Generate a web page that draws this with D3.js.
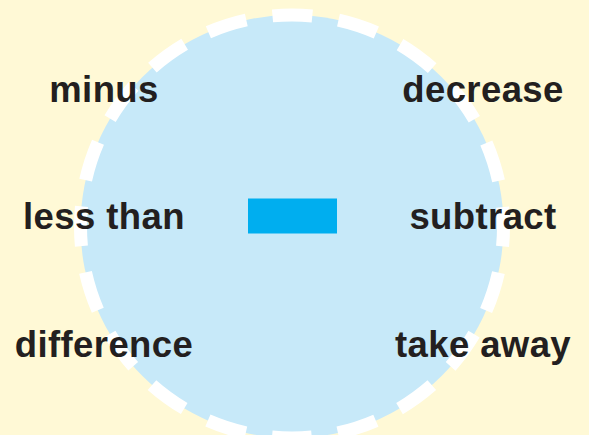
<!DOCTYPE html>
<html>
<head>
<meta charset="utf-8">
<script src="https://cdn.jsdelivr.net/npm/d3@7"></script>
<style>
  html, body { margin: 0; padding: 0; background: #fff9d6; }
  svg { display: block; }
</style>
</head>
<body>
<svg id="chart" width="589" height="435"></svg>
<script>
// words around the circle, one per row
const leftWords = ['minus', 'less than', 'difference']
const rightWords = ['decrease', 'subtract', 'take away']
const rows = [0, 1, 2]
const sides = ['left', 'right']

const width = 589
const height = 435

const svg = d3.select('#chart')

svg.append('rect')
  .attr('width', width)
  .attr('height', height)
  .attr('fill', '#fff9d6')

// circle
const cx = 292
const cy = 226.5
const r = 211.5
const circ = 2 * Math.PI * r
const period = circ / 20

svg.append('circle')
  .attr('cx', cx)
  .attr('cy', cy)
  .attr('r', r)
  .attr('fill', '#c7e9f9')
  .attr('stroke', '#ffffff')
  .attr('stroke-width', 13)
  .attr('stroke-dasharray', `${period * 0.6} ${period * 0.4}`)
  .attr('stroke-dashoffset', period * 0.3)

// minus sign in the middle
svg.append('rect')
  .attr('x', 248)
  .attr('y', 198.5)
  .attr('width', 89)
  .attr('height', 35)
  .attr('fill', '#00aeef')

const yScale = d3.scalePoint()
  .domain(rows)
  .range([101.5, 357])

const xScale = d3.scaleOrdinal()
  .domain(sides)
  .range([104, 483])

const words = []
rows.forEach(i => {
  words.push({side: 'left', row: i, text: leftWords[i]})
  words.push({side: 'right', row: i, text: rightWords[i]})
})

svg.selectAll('text.word')
  .data(words)
  .enter()
  .append('text')
  .attr('class', 'word')
  .attr('x', d => xScale(d.side))
  .attr('y', d => yScale(d.row))
  .attr('text-anchor', 'middle')
  .attr('font-family', '"Liberation Sans", Arial, Helvetica, sans-serif')
  .attr('font-weight', 'bold')
  .attr('font-size', 36.5)
  .attr('letter-spacing', '0.4px')
  .attr('fill', '#231f20')
  .text(d => d.text)
</script>
</body>
</html>
